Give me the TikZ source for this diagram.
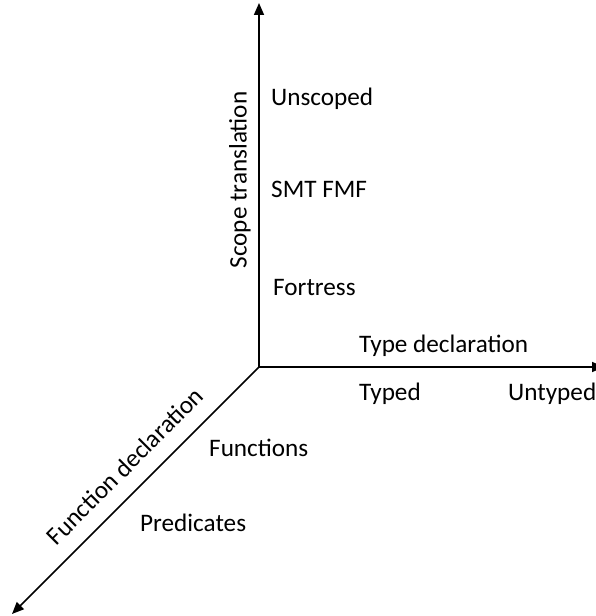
\documentclass[tikz,border=0pt]{standalone}
\usepackage{fontspec}
\setmainfont{Carlito}
\usetikzlibrary{arrows.meta}
\tikzset{
x=1pt, y=1pt, % one unit is one point, so the picture is 595 by 616
axis/.style={line width=1.6pt, -{Triangle[length=12pt, width=10pt]}}, % the three axes
every node/.style={font=\fontsize{25.2}{30}\selectfont, inner sep=0pt}, % sets the text for each label
}

\begin{document}
\begin{tikzpicture}
    \useasboundingbox (0,0) rectangle (595,616);

    \coordinate (o) at (259,249);
    \coordinate (scope) at (259,613);
    \coordinate (type) at (604,249);
    \coordinate (fun) at (12,2);

    \draw[axis] (o) -- (scope);
    \draw[axis] (o) -- (type);
    \draw[axis] (o) -- (fun);

    % axis names
    \node[rotate=90] (scopename) at (240,436) {Scope translation};
    \node[anchor=base west] (typename) at (359,263) {Type declaration};
    \node[rotate=45] (funname) at (125,150) {Function declaration};

    % values on each axis
    \node[anchor=base west] (unscoped) at (271,510) {Unscoped};
    \node[anchor=base west] (smt) at (271,418) {SMT FMF};
    \node[anchor=base west] (fortress) at (273,320) {Fortress};
    \node[anchor=base west] (typed) at (359,215) {Typed};
    \node[anchor=base west] (untyped) at (508,215) {Untyped};
    \node[anchor=base west] (functions) at (209,159) {Functions};
    \node[anchor=base west] (predicates) at (140,84) {Predicates};
\end{tikzpicture}
\end{document}
